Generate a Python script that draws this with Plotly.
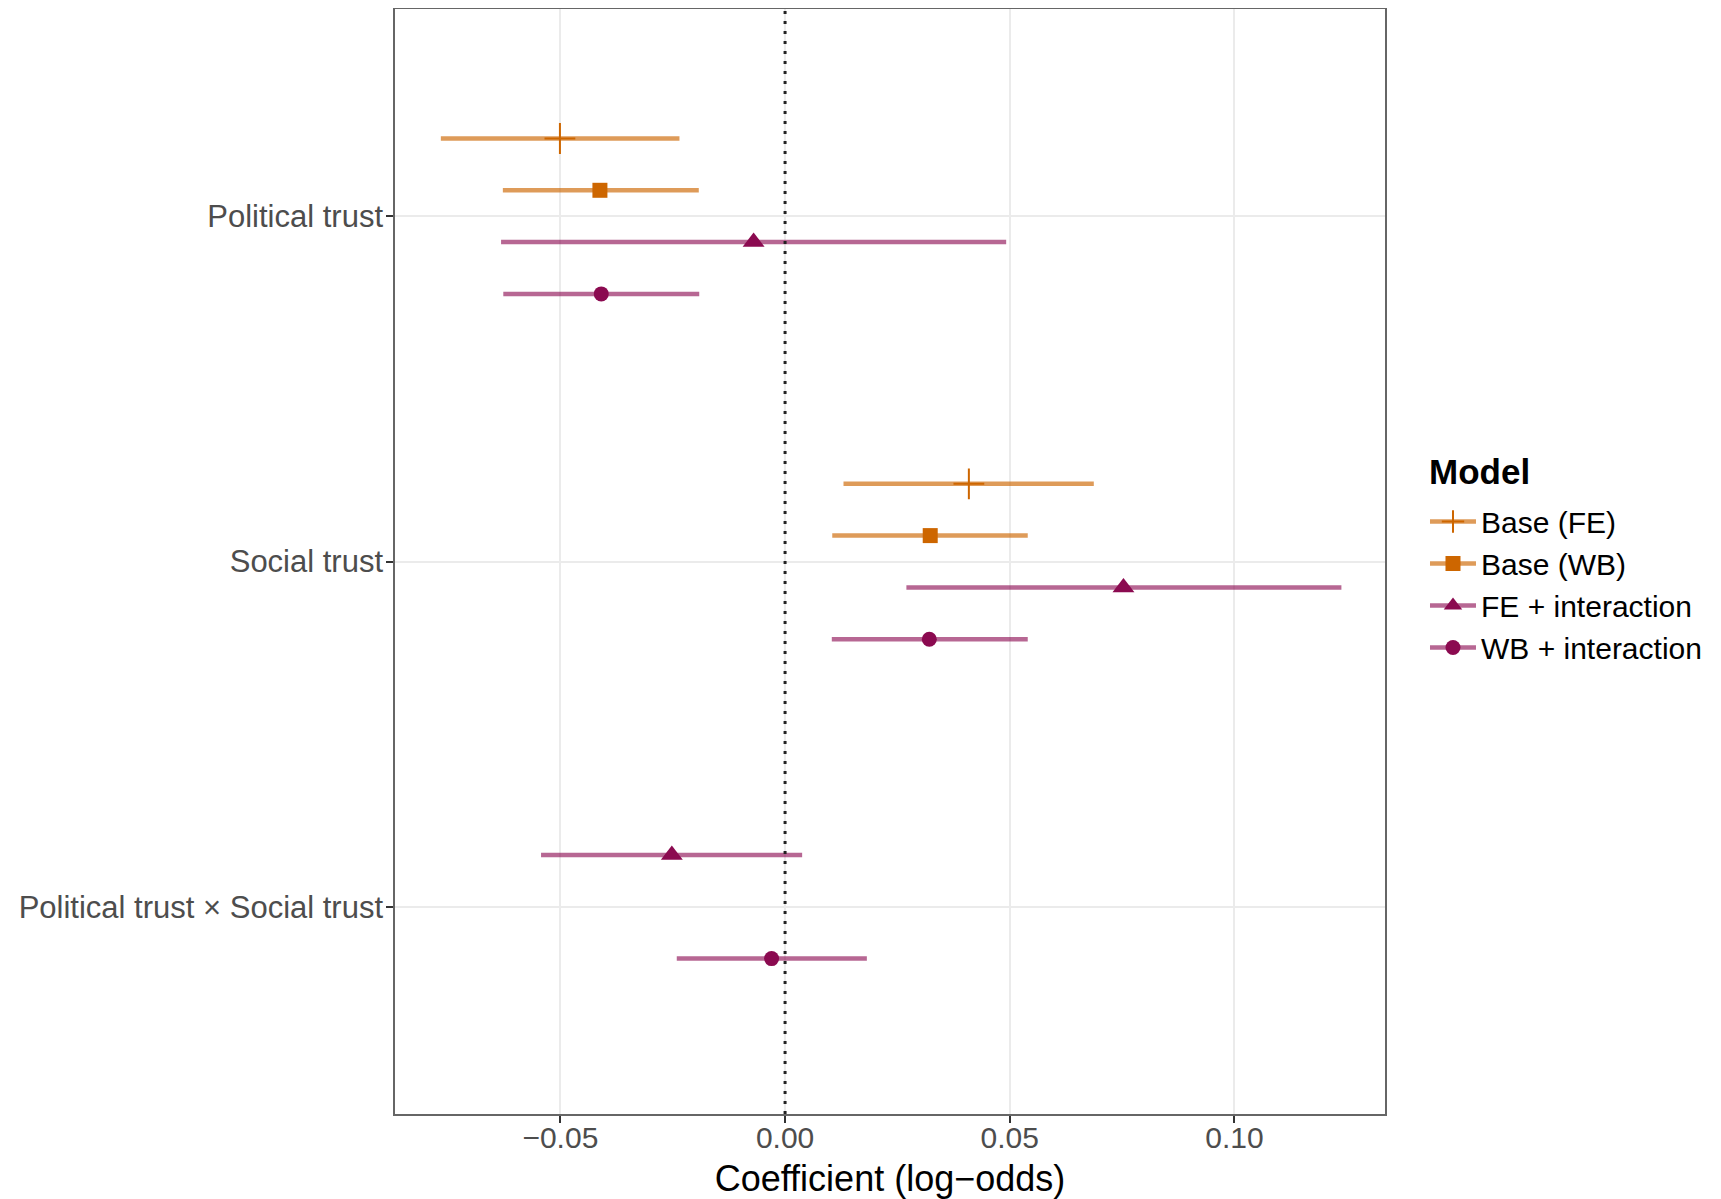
import plotly.graph_objects as go

# ---- data ----
terms = ["Political trust", "Social trust", "Political trust × Social trust"]
models = ["Base (FE)", "Base (WB)", "FE + interaction", "WB + interaction"]

estimate = {
    "Base (FE)":        [-0.0501, 0.0409, None],
    "Base (WB)":        [-0.0412, 0.0323, None],
    "FE + interaction": [-0.0070, 0.0753, -0.0252],
    "WB + interaction": [-0.0409, 0.0321, -0.0030],
}
lower = {
    "Base (FE)":        [-0.0766, 0.0130, None],
    "Base (WB)":        [-0.0628, 0.0105, None],
    "FE + interaction": [-0.0632, 0.0270, -0.0543],
    "WB + interaction": [-0.0627, 0.0104, -0.0241],
}
upper = {
    "Base (FE)":        [-0.0235, 0.0687, None],
    "Base (WB)":        [-0.0192, 0.0540, None],
    "FE + interaction": [0.0492, 0.1238, 0.0038],
    "WB + interaction": [-0.0191, 0.0540, 0.0182],
}
x_ticks = [-0.05, 0.00, 0.05, 0.10]
x_tick_labels = ["\u22120.05", "0.00", "0.05", "0.10"]

# ---- styles ----
ORANGE = "#CD6600"
PURPLE = "#8B0A50"
point_color = {"Base (FE)": ORANGE, "Base (WB)": ORANGE,
               "FE + interaction": PURPLE, "WB + interaction": PURPLE}
line_color = {"Base (FE)": "rgba(205,102,0,0.65)", "Base (WB)": "rgba(205,102,0,0.65)",
              "FE + interaction": "rgba(139,10,80,0.62)", "WB + interaction": "rgba(139,10,80,0.62)"}
symbol = {"Base (FE)": "cross-thin", "Base (WB)": "square",
          "FE + interaction": "triangle-up", "WB + interaction": "circle"}
msize = {"Base (FE)": 22, "Base (WB)": 15, "FE + interaction": 19, "WB + interaction": 15}

DODGE = 0.6
FONT = "Liberation Sans, Arial, sans-serif"

# category positions (first term at top)
term_pos = {t: len(terms) - i for i, t in enumerate(terms)}

# compute dodged y for each model/term
ypos = {m: [None] * len(terms) for m in models}
for j, t in enumerate(terms):
    present = [m for m in models if estimate[m][j] is not None]
    n = len(present)
    for i, m in enumerate(present):
        off = (i - (n - 1) / 2) * (DODGE / n)
        ypos[m][j] = term_pos[t] - off

fig = go.Figure()

# zero reference line
fig.add_vline(x=0, line=dict(color="#222222", width=3, dash="3px,7px"), layer="above")

for m in models:
    lx, ly, px, py = [], [], [], []
    for j in range(len(terms)):
        if estimate[m][j] is None:
            continue
        lx += [lower[m][j], upper[m][j], None]
        ly += [ypos[m][j], ypos[m][j], None]
        px.append(estimate[m][j])
        py.append(ypos[m][j])
    fig.add_trace(go.Scatter(x=lx, y=ly, mode="lines", showlegend=False,
                             line=dict(color=line_color[m], width=4.5), hoverinfo="skip"))
    mk = dict(symbol=symbol[m], size=msize[m], color=point_color[m])
    if symbol[m] == "cross-thin":
        mk["line"] = dict(color=point_color[m], width=2)
    else:
        mk["line"] = dict(width=0)
    fig.add_trace(go.Scatter(x=px, y=py, mode="markers", showlegend=False, marker=mk))
    # legend entry
    fig.add_trace(go.Scatter(x=[None], y=[None], mode="lines+markers", name=m,
                             line=dict(color=line_color[m], width=4.5), marker=dict(mk)))

fig.add_annotation(text="<b>Model</b>", xref="paper", yref="paper",
                   x=1.0424, y=0.581, xanchor="left", yanchor="middle",
                   showarrow=False, font=dict(size=35, color="black", family=FONT))

fig.update_layout(
    width=1713, height=1191,
    margin=dict(l=387, r=336, t=1, b=85, autoexpand=False),
    paper_bgcolor="white", plot_bgcolor="white",
    font=dict(family=FONT, size=30, color="black"),
    showlegend=True,
    legend=dict(
        x=1.0404, xanchor="left", y=0.5597, yanchor="top",
        font=dict(size=30, color="black"),
        itemwidth=46, tracegroupgap=0,
        bgcolor="rgba(0,0,0,0)",
    ),
    xaxis=dict(
        range=[-0.0868, 0.1335],
        tickvals=x_ticks, ticktext=x_tick_labels,
        tickfont=dict(size=30, color="#4D4D4D", family=FONT),
        ticklabelstandoff=-11,
        title=dict(text="Coefficient (log\u2212odds)", font=dict(size=36, color="black"), standoff=19),
        showgrid=True, gridcolor="#EBEBEB", gridwidth=2,
        zeroline=False,
        ticks="outside", ticklen=7, tickwidth=2, tickcolor="#333333",
        showline=True, linecolor="#666666", linewidth=1.5, mirror=True,
    ),
    yaxis=dict(
        range=[0.4, 3.6],
        tickvals=[term_pos[t] for t in terms], ticktext=terms,
        tickfont=dict(size=31, color="#4D4D4D", family=FONT),
        ticklabelstandoff=-3,
        showgrid=True, gridcolor="#EBEBEB", gridwidth=2,
        zeroline=False,
        ticks="outside", ticklen=7, tickwidth=2, tickcolor="#333333",
        showline=True, linecolor="#666666", linewidth=1.5, mirror=True,
    ),
)

fig.write_html("out.html")
